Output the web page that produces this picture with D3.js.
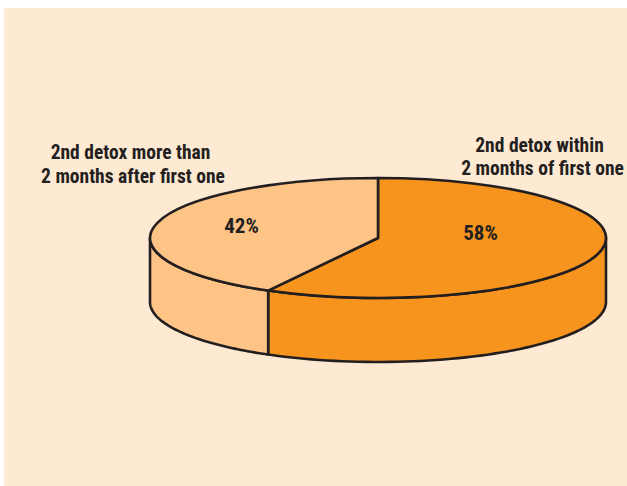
<!DOCTYPE html>
<html>
<head>
<meta charset="utf-8">
<script src="https://cdn.jsdelivr.net/npm/d3@7/dist/d3.min.js"></script>
<style>
html,body{margin:0;padding:0;background:#fff;}
svg{display:block;}
text{font-family:"Liberation Sans Narrow","Roboto Condensed","Liberation Sans",sans-serif;font-weight:700;fill:#231F20;}
</style>
</head>
<body>
<svg id="c" width="627" height="486"></svg>
<script>
const categories = ["2nd detox within", "2nd detox more than"];
const categories2 = ["2 months of first one", "2 months after first one"];
const values = [58, 42];
const valueLabels = ["58%", "42%"];
const colors = ["#F7941D", "#FDC486"];
const ink = "#231F20";

const W = 627, H = 486;
const cx = 378, cy = 238, rx = 228, ry = 60, depth = 64;

const svg = d3.select("#c");
svg.append("rect").attr("x", 4).attr("y", 8).attr("width", W - 4).attr("height", H - 8).attr("fill", "#FEEAD3");

const slices = d3.pie().sort(null).value(d => d)(values);
const ex = a => cx + rx * Math.sin(a);
const ey = a => cy - ry * Math.cos(a);
const line = d3.line();

// side walls: only the front half of the ellipse (angle 90° to 270°) shows
slices.forEach((s, i) => {
  const a0 = Math.max(s.startAngle, Math.PI / 2);
  const a1 = Math.min(s.endAngle, Math.PI * 1.5);
  if (a1 <= a0) return;
  const steps = d3.range(0, 61).map(k => a0 + (a1 - a0) * k / 60);
  const top = steps.map(a => [ex(a), ey(a)]);
  const bottom = steps.slice().reverse().map(a => [ex(a), ey(a) + depth]);
  svg.append("path")
    .attr("d", line(top.concat(bottom)) + "Z")
    .attr("fill", colors[i])
    .attr("stroke", ink).attr("stroke-width", 2.6).attr("stroke-linejoin", "round");
});

// top faces: d3.arc circle squashed into an ellipse
const arc = d3.arc().innerRadius(0).outerRadius(rx);
const topG = svg.append("g").attr("transform", `translate(${cx},${cy}) scale(1,${ry / rx})`);
topG.selectAll("path").data(slices).join("path")
  .attr("d", arc)
  .attr("fill", (d, i) => colors[i])
  .attr("stroke", ink).attr("stroke-width", 2.6).attr("stroke-linejoin", "round")
  .attr("vector-effect", "non-scaling-stroke");

const labels = [
  [categories[0], 539.5, 152, 19.5], [categories2[0], 542.5, 175, 19.5],
  [categories[1], 130.5, 159, 19.5], [categories2[1], 133, 183, 19.5],
  [valueLabels[0], 480.5, 240, 21], [valueLabels[1], 241.5, 233, 21]
];
svg.selectAll("text").data(labels).join("text")
  .attr("x", d => d[1]).attr("y", d => d[2])
  .attr("text-anchor", "middle")
  .attr("font-size", d => d[3])
  .text(d => d[0]);
</script>
</body>
</html>
